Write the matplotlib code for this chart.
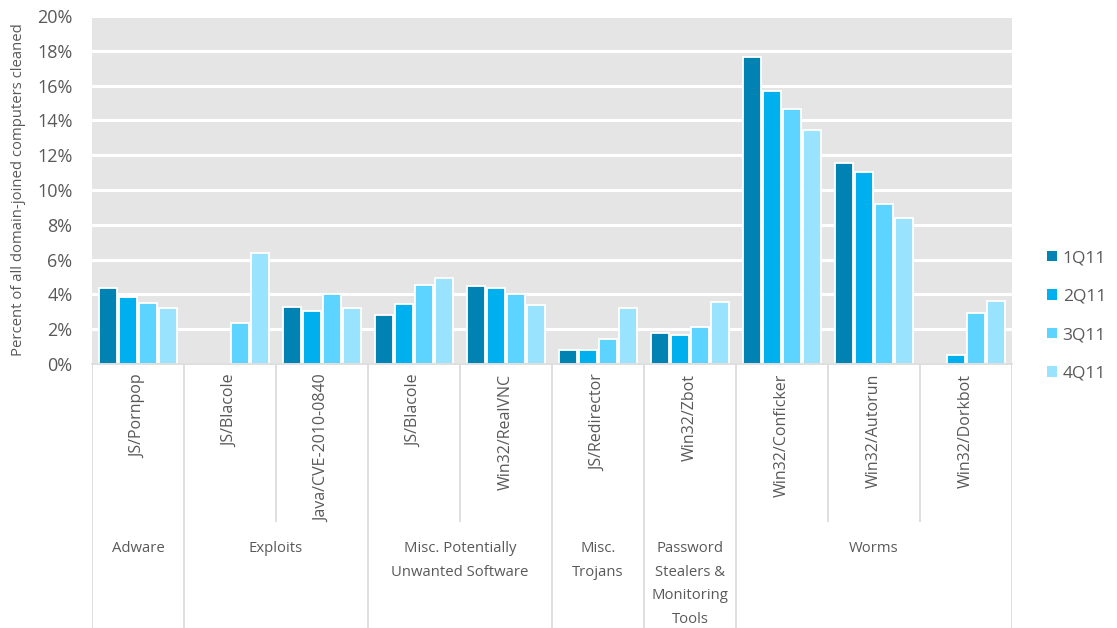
import numpy as np
import matplotlib.pyplot as plt
from matplotlib.patches import Patch

plt.rcParams['font.family'] = ['Open Sans', 'DejaVu Sans']

families = ['JS/Pornpop', 'JS/Blacole', 'Java/CVE-2010-0840', 'JS/Blacole',
            'Win32/RealVNC', 'JS/Redirector', 'Win32/Zbot', 'Win32/Conficker',
            'Win32/Autorun', 'Win32/Dorkbot']
groups = ['Adware', 'Exploits', 'Misc. Potentially\nUnwanted Software',
          'Misc.\nTrojans', 'Password\nStealers &\nMonitoring\nTools', 'Worms']
group_sizes = [1, 2, 2, 1, 1, 3]

quarters = ['1Q11', '2Q11', '3Q11', '4Q11']
q1 = [4.37, 0.0, 3.28, 2.82, 4.46, 0.80, 1.76, 17.66, 11.55, 0.0]
q2 = [3.85, 0.0, 3.05, 3.45, 4.35, 0.78, 1.67, 15.70, 11.03, 0.54]
q3 = [3.50, 2.35, 4.02, 4.54, 4.00, 1.46, 2.11, 14.63, 9.21, 2.91]
q4 = [3.20, 6.38, 3.20, 4.94, 3.37, 3.20, 3.56, 13.45, 8.41, 3.62]
colors = ['#0083B3', '#00B0EE', '#5DD3FF', '#99E3FF']

txt = '#595959'
sep = '#D9D9D9'
W, H = 1117, 628

fig = plt.figure(figsize=(W / 100, H / 100), dpi=100)
ax = fig.add_axes([92 / W, (H - 364) / H, 920 / W, 348 / H])
ax.set_facecolor('#E5E5E5')
ax.set_xlim(0, 10)
ax.set_ylim(0, 20)

x = np.arange(len(families)) + 0.5
pitch = 0.217
for j, vals in enumerate([q1, q2, q3, q4]):
    ax.bar(x + (j - 1.5) * pitch, vals, width=0.19, color=colors[j],
           edgecolor='white', linewidth=1.3, label=quarters[j], zorder=2)

ax.set_yticks(np.arange(0, 21, 2))
ax.set_yticklabels(['%d%%' % v for v in range(0, 21, 2)])
ax.tick_params(axis='y', length=0, pad=14, labelsize=13, labelcolor=txt)
ax.set_xticks([])
ax.set_axisbelow(True)
ax.grid(axis='y', color='white', linewidth=2.2)
for s in ['top', 'right', 'left']:
    ax.spines[s].set_visible(False)
ax.spines['bottom'].set_color(sep)
ax.spines['bottom'].set_linewidth(1.2)
ax.spines['bottom'].set_zorder(3)
ax.set_ylabel('Percent of all domain-joined computers cleaned', fontsize=10.7,
              color=txt)
ax.yaxis.set_label_coords(-66 / 920, 0.5)

# category area under the bars, in pixel rows below the baseline
lab = fig.add_axes([92 / W, 0, 920 / W, 264 / H])
lab.set_xlim(0, 10)
lab.set_ylim(264, 0)
lab.axis('off')

for i, fam in enumerate(families):
    lab.text(i + 0.5, 10, fam, rotation=90, ha='center', va='top',
             fontsize=11.5, color=txt)

edges = np.concatenate([[0], np.cumsum(group_sizes)])
for b in range(len(families) + 1):
    bottom = 264 if b in edges else 158
    lab.plot([b, b], [0, bottom], color=sep, linewidth=1.2, solid_capstyle='butt')

for g, name in enumerate(groups):
    c = (edges[g] + edges[g + 1]) / 2
    lab.text(c, 177, name, ha='center', va='top', fontsize=10.7, color=txt,
             linespacing=1.78)

handles = [Patch(facecolor=c, edgecolor='none') for c in colors]
leg = fig.legend(handles, quarters, loc='center left',
                 bbox_to_anchor=(1047 / W, 1 - 316 / H), frameon=False,
                 fontsize=12.5, labelcolor=txt, handlelength=0.55,
                 handleheight=0.55, handletextpad=0.35, labelspacing=1.3,
                 borderpad=0, borderaxespad=0)

fig.savefig('out.png', dpi=100)
